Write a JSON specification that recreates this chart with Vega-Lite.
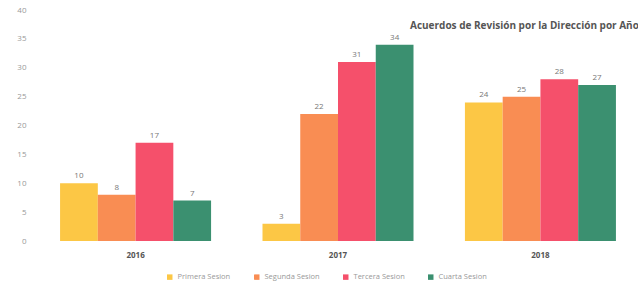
{
  "$schema": "https://vega.github.io/schema/vega-lite/v6.json",
  "autosize": "none",
  "width": 600,
  "height": 231,
  "padding": {"left": 38, "top": 10, "right": 0, "bottom": 45},
  "background": "white",
  "config": {"view": {"stroke": null}},
  "title": {
    "text": "Acuerdos de Revisión por la Dirección por Año",
    "anchor": "start",
    "frame": "group",
    "dx": 372,
    "dy": 29,
    "fontSize": 10,
    "fontWeight": "bold",
    "color": "#555555",
    "font": "Open Sans"
  },
  "data": {
    "values": [
      {"anio": "2016", "sesion": "Primera Sesion", "valor": 10},
      {"anio": "2016", "sesion": "Segunda Sesion", "valor": 8},
      {"anio": "2016", "sesion": "Tercera Sesion", "valor": 17},
      {"anio": "2016", "sesion": "Cuarta Sesion", "valor": 7},
      {"anio": "2017", "sesion": "Primera Sesion", "valor": 3},
      {"anio": "2017", "sesion": "Segunda Sesion", "valor": 22},
      {"anio": "2017", "sesion": "Tercera Sesion", "valor": 31},
      {"anio": "2017", "sesion": "Cuarta Sesion", "valor": 34},
      {"anio": "2018", "sesion": "Primera Sesion", "valor": 24},
      {"anio": "2018", "sesion": "Segunda Sesion", "valor": 25},
      {"anio": "2018", "sesion": "Tercera Sesion", "valor": 28},
      {"anio": "2018", "sesion": "Cuarta Sesion", "valor": 27}
    ]
  },
  "encoding": {
    "x": {
      "field": "anio", "type": "nominal",
      "scale": {"paddingInner": 0.254, "paddingOuter": 0.109},
      "axis": {"title": null, "labelAngle": 0, "domain": false, "ticks": false, "labelFontWeight": "bold", "labelFontSize": 8, "labelColor": "#555555", "labelPadding": 10, "labelFont": "Open Sans"}
    },
    "xOffset": {"field": "sesion", "type": "nominal", "sort": ["Primera Sesion", "Segunda Sesion", "Tercera Sesion", "Cuarta Sesion"], "scale": {"paddingInner": 0, "paddingOuter": 0}},
    "y": {
      "field": "valor", "type": "quantitative",
      "scale": {"domain": [0, 40]},
      "axis": {"title": null, "grid": false, "domain": false, "ticks": false, "values": [0,5,10,15,20,25,30,35,40], "labelOverlap": false, "labelFontSize": 8, "labelColor": "#999999", "labelPadding": 12, "labelFont": "Open Sans"}
    }
  },
  "layer": [
    {
      "mark": {"type": "bar"},
      "encoding": {
        "color": {
          "field": "sesion", "type": "nominal",
          "sort": ["Primera Sesion", "Segunda Sesion", "Tercera Sesion", "Cuarta Sesion"],
          "scale": {"domain": ["Primera Sesion", "Segunda Sesion", "Tercera Sesion", "Cuarta Sesion"], "range": ["#FCC745", "#F98D53", "#F5506B", "#3B9070"]},
          "legend": {"title": null, "orient": "none", "legendX": 128, "legendY": 263, "direction": "horizontal", "symbolType": "square", "symbolSize": 30, "labelFontSize": 7.5, "labelColor": "#999999", "labelFont": "Open Sans", "columnPadding": 22, "symbolOffset": 0}
        }
      }
    },
    {
      "mark": {"type": "text", "dy": -7, "fontSize": 8, "color": "#777777", "font": "Open Sans"},
      "encoding": {"text": {"field": "valor", "type": "quantitative"}}
    }
  ]
}
